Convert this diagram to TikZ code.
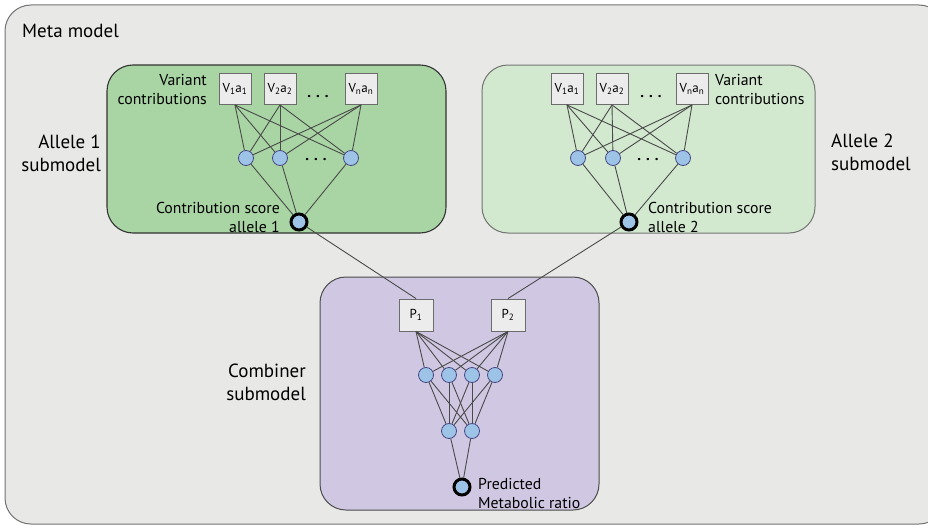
\documentclass[tikz,border=0pt]{standalone}
\usepackage{fontspec}
\setmainfont{PT Sans}
\usepackage{xcolor}
\usepackage{tikz}
\usetikzlibrary{positioning}
\definecolor{metafill}{HTML}{E8E8E6}
\definecolor{allelea}{HTML}{A8D5A3}
\definecolor{alleleb}{HTML}{D2E9CF}
\definecolor{combfill}{HTML}{D0C8E2}
\definecolor{unitfill}{HTML}{9DC3E6}
\definecolor{sqfill}{HTML}{ECECEC}
\definecolor{wire}{HTML}{4A4A4A}

\begin{document}
\begin{tikzpicture}[x=1pt,y=-1pt,
  sq/.style={rectangle,draw=gray!85!black,fill=sqfill,line width=0.9pt,
    minimum width=32pt,minimum height=31pt,inner sep=0pt,font=\fontsize{13}{15}\selectfont},
  unit/.style={circle,draw=gray!70!blue!80!black,fill=unitfill,line width=0.8pt,
    minimum size=15pt,inner sep=0pt},
  outunit/.style={circle,draw=black,fill=unitfill,line width=3pt,
    minimum size=16pt,inner sep=0pt},
  big/.style={inner sep=0pt,font=\fontsize{19}{23}\selectfont},
  small/.style={inner sep=0pt,font=\fontsize{15.8}{19}\selectfont},
  dots/.style={inner sep=0pt,anchor=base,font=\bfseries\fontsize{15}{15}\selectfont},
  wiring/.style={wire,line width=0.9pt},
]
\useasboundingbox (0,0) rectangle (928,527);
\clip (0,0) rectangle (928,527);
% panels
\draw[fill=metafill,draw=gray!90!black,line width=1pt,rounded corners=26pt] (5,5) rectangle (945,524);
\draw[fill=allelea,draw=black!80,line width=1.1pt,rounded corners=26pt] (107,65) rectangle (446,233);
\draw[fill=alleleb,draw=gray!90!black,line width=1pt,rounded corners=26pt] (482,65) rectangle (815,233);
\draw[fill=combfill,draw=black!70,line width=1pt,rounded corners=26pt] (320,277) rectangle (599,510);

\node[big,anchor=west] (meta) at (22,31) {Meta model};
\node[big,anchor=east,align=right] (lab1) at (101,153) {Allele 1\\submodel};
\node[big,anchor=west,align=left] (lab2) at (831,152) {Allele 2\\submodel};
\node[big,anchor=east,align=right] (labc) at (306,382) {Combiner\\submodel};

% allele 1 submodel
\node[sq](v11) at(235,89){V\textsubscript{1}a\textsubscript{1}};
\node[sq](v12) at(280,89){V\textsubscript{2}a\textsubscript{2}};
\node[sq](v1n) at(361,89){V\textsubscript{n}a\textsubscript{n}};
\node[dots](d1a) at(318,97){.\hspace{5pt}.\hspace{5pt}.};
\node[unit](h11) at(246,158){}; \node[unit](h12) at(280,158){};
\node[unit](h1n) at(351,158){};
\node[dots](d1b) at(316,160){.\hspace{5pt}.\hspace{5pt}.};
\node[outunit](o1) at(299,222){};
\node[small,anchor=east,align=right](var1) at(207,90){Variant\\contributions};
\node[small,anchor=east,align=right](sc1) at(280,217){Contribution score\\allele 1};
\foreach \s in {v11,v12,v1n}
  \foreach \h in {h11,h12,h1n}
    \draw[wiring](\s.south)--(\h);
\foreach \h in {h11,h12,h1n}
  \draw[wiring](\h)--(o1);

% allele 2 submodel
\node[sq](v21) at(567,89){V\textsubscript{1}a\textsubscript{1}};
\node[sq](v22) at(612,89){V\textsubscript{2}a\textsubscript{2}};
\node[sq](v2n) at(692,89){V\textsubscript{n}a\textsubscript{n}};
\node[dots](d2a) at(651,97){.\hspace{5pt}.\hspace{5pt}.};
\node[unit](h21) at(578,158){}; \node[unit](h22) at(613,158){};
\node[unit](h2n) at(683,158){};
\node[dots](d2b) at(648,160){.\hspace{5pt}.\hspace{5pt}.};
\node[outunit](o2) at(629,222){};
\node[small,anchor=west,align=left](var2) at(715,90){Variant\\contributions};
\node[small,anchor=west,align=left](sc2) at(648,217){Contribution score\\allele 2};
\foreach \s in {v21,v22,v2n}
  \foreach \h in {h21,h22,h2n}
    \draw[wiring](\s.south)--(\h);
\foreach \h in {h21,h22,h2n}
  \draw[wiring](\h)--(o2);

% combiner submodel
\node[sq,minimum width=34pt,minimum height=32pt](p1) at(416,315){P\textsubscript{1}};
\node[sq,minimum width=34pt,minimum height=32pt](p2) at(508,315){P\textsubscript{2}};
\node[unit](c1) at(426,375){}; \node[unit](c2) at(449,375){};
\node[unit](c3) at(472,375){}; \node[unit](c4) at(495,375){};
\node[unit](e1) at(449,431){}; \node[unit](e2) at(472,431){};
\node[outunit](out) at(462,487){};
\node[small,anchor=west,align=left](pred) at(478,493){Predicted\\Metabolic ratio};
\draw[wiring](o1)--(p1.north);
\draw[wiring](o2)--(p2.north);
\foreach \s in {p1,p2}
  \foreach \c in {c1,c2,c3,c4}
    \draw[wiring](\s.south)--(\c);
\foreach \c in {c1,c2,c3,c4}
  \foreach \e in {e1,e2}
    \draw[wiring](\c)--(\e);
\foreach \e in {e1,e2}
  \draw[wiring](\e)--(out);
\end{tikzpicture}
\end{document}
